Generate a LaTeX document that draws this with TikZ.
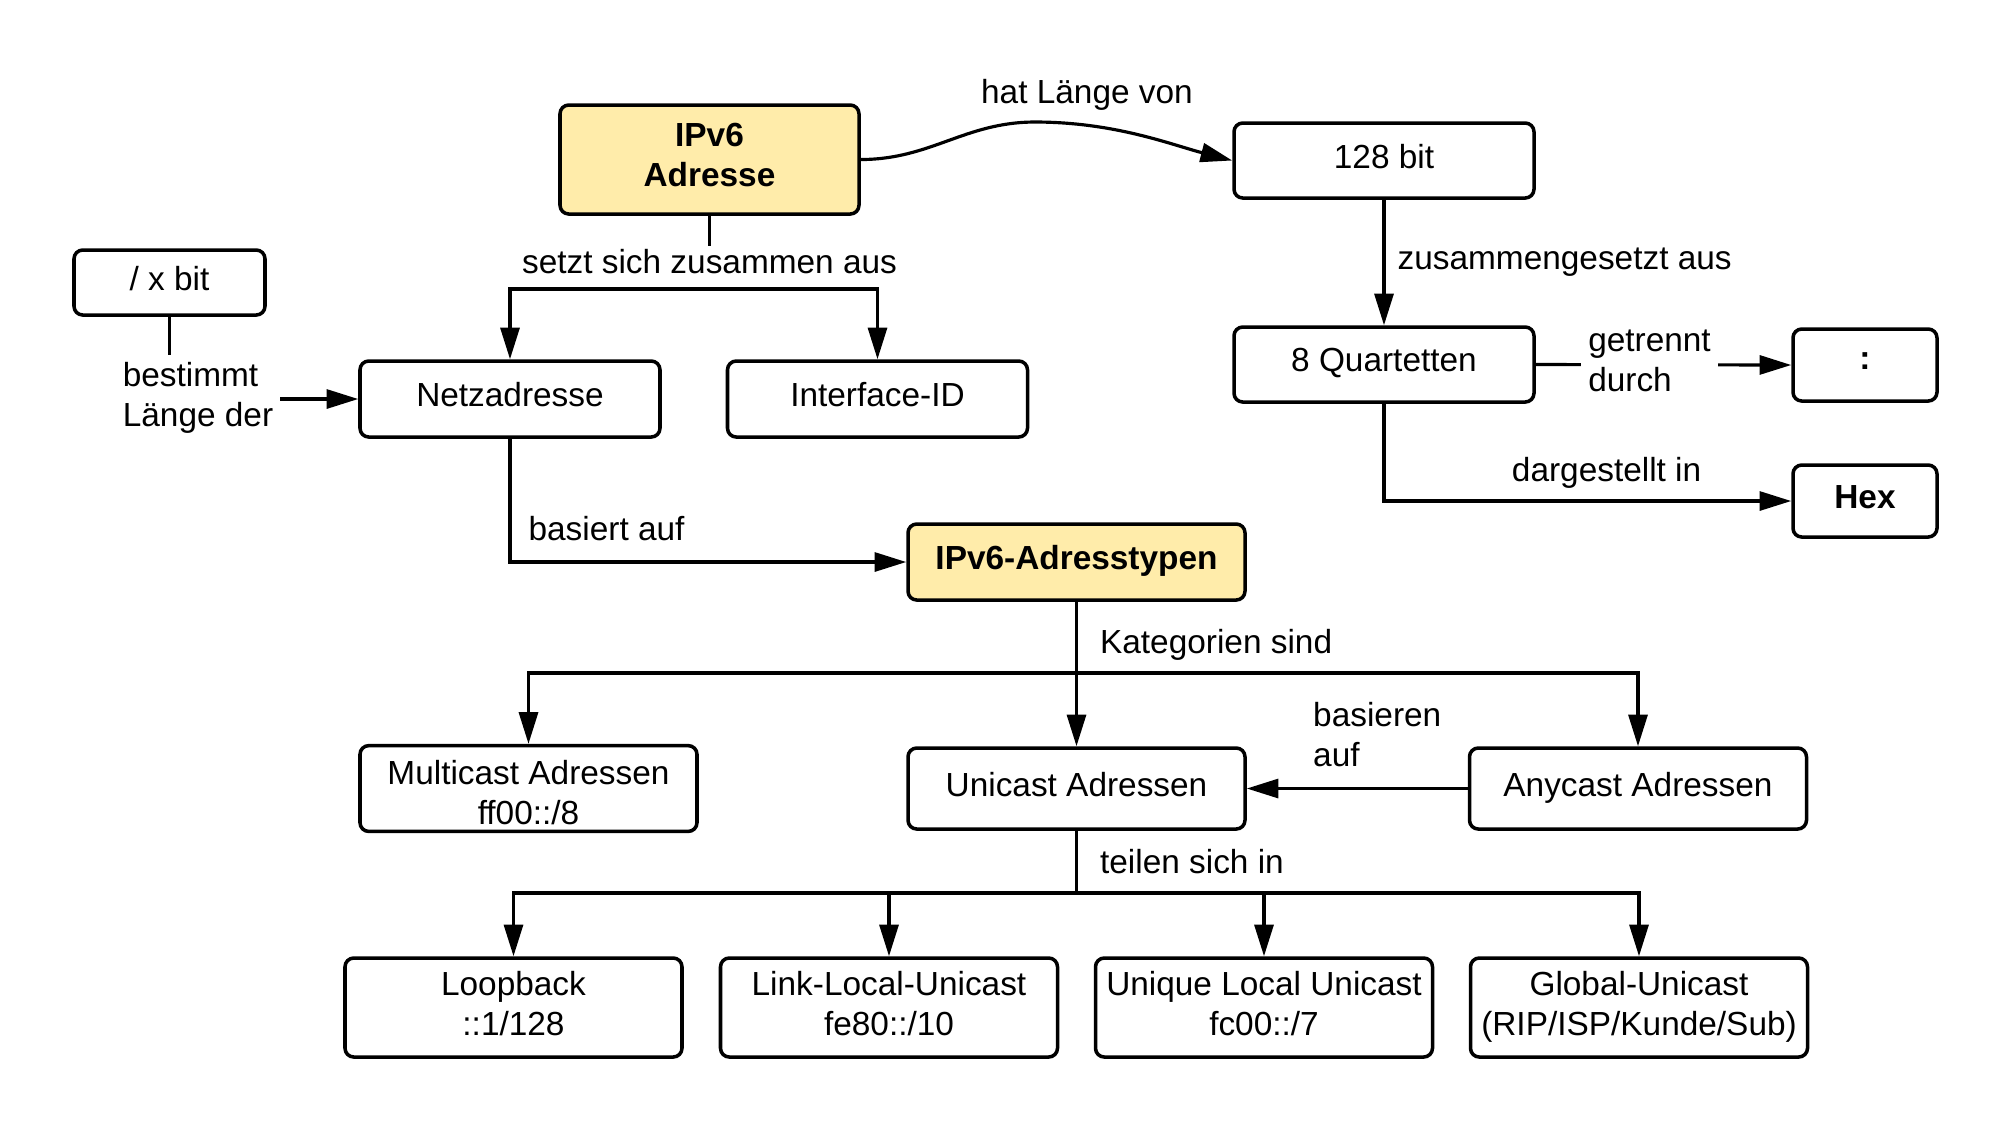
\documentclass[tikz,border=0pt]{standalone}
\usepackage{fontspec}
\setmainfont{Liberation Sans}
\usetikzlibrary{arrows.meta, positioning, calc}
\definecolor{keyyellow}{RGB}{255,236,170}

\begin{document}
\begin{tikzpicture}[
    box/.style={
        rectangle, draw, line width=1pt, rounded corners=2.5pt, fill=white,
        minimum width=3cm, minimum height=0.76cm, inner sep=2pt, text depth=0.25em,
        align=center, font=\fontsize{9.5}{11.4}\selectfont
    },
    key/.style={box, fill=keyyellow, font=\fontsize{9.5}{11.4}\selectfont\bfseries},
    wide/.style={box, minimum width=3.37cm, minimum height=0.81cm},
    arr/.style={-{Triangle[length=9pt, width=5.4pt]}, line width=0.9pt},
    lbl/.style={font=\fontsize{9.5}{11.4}\selectfont, fill=white, inner sep=2pt}
]
\useasboundingbox (0,0) rectangle (20.14,-11.33);

\node[key] (ipv6)  at (7.095, -1.595) [minimum height=1.09cm, minimum width=2.99cm] {IPv6\\Adresse};
\node[box] (bits)  at (13.84, -1.605) [minimum height=0.75cm] {128 bit};
\node[box] (xbit)  at (1.695, -2.825) [minimum width=1.91cm, minimum height=0.65cm] {/ x bit};
\node[box] (netz)  at (5.10, -3.99)   {Netzadresse};
\node[box] (iface) at (8.775, -3.99)  {Interface-ID};
\node[box] (quart) at (13.84, -3.645) [minimum height=0.75cm] {8 Quartetten};
\node[box] (colon) at (18.65, -3.65)  [minimum width=1.44cm, minimum height=0.72cm, font=\fontsize{9.5}{11.4}\selectfont\bfseries] {:};
\node[box] (hex)   at (18.65, -5.01)  [minimum width=1.44cm, minimum height=0.72cm, font=\fontsize{9.5}{11.4}\selectfont\bfseries] {Hex};
\node[key] (typen) at (10.765, -5.62) [minimum width=3.37cm] {IPv6-Adresstypen};

\node[wide] (multi) at (5.285, -7.885)  [text depth=0pt] {\rule{0pt}{0.95em}Multicast Adressen\\ff00::/8};
\node[wide] (uni)   at (10.765, -7.885) {Unicast Adressen};
\node[wide] (any)   at (16.38, -7.885)  {Anycast Adressen};

\node[wide] (loop) at (5.135, -10.075) [minimum height=0.99cm] {Loopback\\::1/128};
\node[wide] (link) at (8.89, -10.075)  [minimum height=0.99cm] {Link-Local-Unicast\\fe80::/10};
\node[wide] (ula)  at (12.64, -10.075) [minimum height=0.99cm] {Unique Local Unicast\\fc00::/7};
\node[wide] (glob) at (16.39, -10.075) [minimum height=0.99cm] {Global-Unicast\\(RIP/ISP/Kunde/Sub)};

\coordinate (split1) at (7.095, -2.89);
\coordinate (split2) at (10.765, -6.73);
\coordinate (split3) at (10.765, -8.93);

\draw[arr] (ipv6.east) .. controls +(0.7,0) and +(-0.7,0) .. (10.35,-1.22)
    .. controls +(0.8,0) and +(-0.6,0.155) .. (bits.west);
\node[lbl] (hat) at (10.87, -0.95) {hat Länge von};

\draw[line width=0.9pt] (ipv6.south) -- node[lbl, pos=0.79, anchor=base, inner ysep=1pt, text depth=0.3em]{setzt sich zusammen aus} (split1);
\draw[arr] (split1) -| (netz.north);
\draw[arr] (split1) -| (iface.north);

\draw[arr] (xbit.south) |- node[lbl, align=left, xshift=0.285cm, yshift=0.01cm]{bestimmt\\Länge der} (netz.west);
\draw[arr] (netz.south) |- node[lbl, pos=0.5, above right, xshift=0.1cm, yshift=0.13cm]{basiert auf} (typen.west);

\draw[arr] (bits.south) -- node[lbl, right, xshift=0.05cm]{zusammengesetzt aus} (quart.north);
\draw[arr] (quart.east) -- node[lbl, align=left, xshift=-0.14cm, yshift=0.04cm]{getrennt\\durch} (colon.west);
\draw[arr] (quart.south) |- node[lbl, pos=0.75, above, xshift=0.19cm, yshift=0.04cm]{dargestellt in} (hex.west);

\draw[line width=0.9pt] (typen.south) -- node[lbl, pos=0.6, right, xshift=0.15cm]{Kategorien sind} (split2);
\draw[arr] (split2) -| (multi.north);
\draw[arr] (split2) -- (uni.north);
\draw[arr] (split2) -| (any.north);
\draw[arr] (any.west) -- node[lbl, above, align=left, xshift=0.2cm, yshift=0.13cm]{basieren\\auf} (uni.east);

\draw[line width=0.9pt] (uni.south) -- node[lbl, pos=0.5, right, xshift=0.15cm]{teilen sich in} (split3);
\draw[arr] (split3) -| (loop.north);
\draw[arr] (split3) -| (link.north);
\draw[arr] (split3) -| (ula.north);
\draw[arr] (split3) -| (glob.north);

\end{tikzpicture}
\end{document}
